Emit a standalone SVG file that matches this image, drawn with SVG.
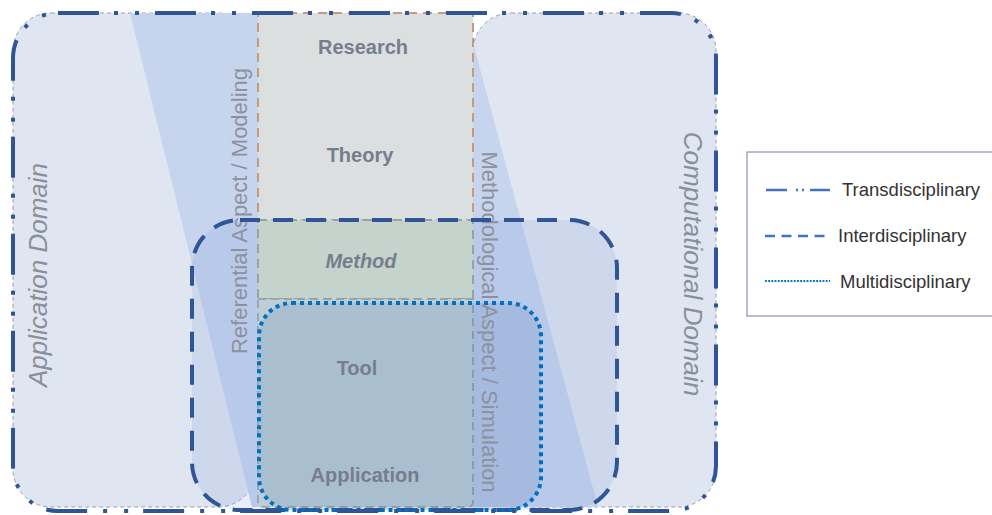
<svg xmlns="http://www.w3.org/2000/svg" width="992" height="515" viewBox="0 0 992 515">
<style>
.dom{fill:#dfe6f2;stroke:#9a9fa8;stroke-width:1;stroke-dasharray:4 3}
.lbl{font-family:"Liberation Sans",Arial,sans-serif;font-weight:bold;font-size:20px;fill:#777d8e;text-anchor:middle}
.rot{font-family:"Liberation Sans",Arial,sans-serif;font-size:22px;fill:#8c919b;text-anchor:middle}
.domt{font-family:"Liberation Sans",Arial,sans-serif;font-style:italic;font-size:26px;fill:#8a8f99;text-anchor:middle}
.leg{font-family:"Liberation Sans",Arial,sans-serif;font-size:18.5px;fill:#333}
.trans{fill:none;stroke:#2f5597;stroke-width:4;stroke-dasharray:41 15 4 17 4 16}
.inter{stroke:#2f5597;stroke-width:4;stroke-dasharray:20 13}
.multi{stroke:#0070c0;stroke-width:4;stroke-dasharray:4 4}
</style>
<rect width="992" height="515" fill="#fff"/>
<g id="application-domain">
<rect class="dom" x="13" y="13" width="243" height="494" rx="38"/>
</g>
<g id="computational-domain">
<rect class="dom" x="473" y="13" width="243" height="494" rx="38"/>
</g>
<g id="band">
<polygon points="130,13 465,13 598,507 252,507" fill="#c7d4ee"/>
</g>
<g id="interdisciplinary-fill">
<rect x="192" y="220" width="425" height="290" rx="48" fill="#6f8fd2" fill-opacity="0.16"/>
</g>
<g id="research-theory">
<rect x="258" y="13" width="215" height="207" fill="#dcdfe0" stroke="#c49a80" stroke-width="2" stroke-dasharray="9 6"/>
<text class="lbl" x="363" y="54">Research</text>
<text class="lbl" x="360" y="162">Theory</text>
</g>
<g id="method">
<rect x="258" y="220" width="215" height="79" fill="#c4d4cc" stroke="#98a39c" stroke-width="2" stroke-dasharray="9 6"/>
<text class="lbl" x="361" y="268" font-style="italic">Method</text>
</g>
<g id="tool-application">
<path d="M258,299 H473 V501 Q473,507 467,507 H264 Q258,507 258,501 Z" fill="#bccfd6" stroke="#8f9b9c" stroke-width="1.5" stroke-dasharray="8 5"/>
</g>
<g id="multidisciplinary-fill">
<rect x="259" y="303" width="282" height="207" rx="33" fill="#3c64aa" fill-opacity="0.15"/>
</g>
<g id="labels">
<text class="lbl" x="357" y="375">Tool</text>
<text class="lbl" x="365" y="482">Application</text>
<text class="rot" transform="translate(247,211) rotate(-90)">Referential Aspect / Modeling</text>
<text class="rot" transform="translate(482,322) rotate(90)">Methodological Aspect / Simulation</text>
<text class="domt" transform="translate(47,275) rotate(-90)">Application Domain</text>
<text class="domt" transform="translate(684,264) rotate(90)">Computational Domain</text>
</g>
<g id="connectors">
<rect class="inter" x="192" y="220" width="425" height="290" rx="48" fill="none"/>
<rect class="multi" x="259" y="303" width="282" height="207" rx="33" fill="none"/>
<rect class="trans" x="13" y="13" width="703" height="498" rx="45"/>
</g>
<g id="legend">
<rect x="747" y="152" width="260" height="164" fill="#fff" stroke="#8593ab" stroke-width="1.2"/>
<g stroke="#4472c4" stroke-width="2.5">
<line x1="766" y1="190" x2="787" y2="190"/>
<line x1="796" y1="190" x2="798" y2="190"/>
<line x1="802" y1="190" x2="804" y2="190"/>
<line x1="810" y1="190" x2="830" y2="190"/>
<line x1="765" y1="236" x2="828" y2="236" stroke-dasharray="10 6.5"/>
</g>
<line x1="765" y1="281" x2="830" y2="281" stroke="#0070c0" stroke-width="1.8" stroke-dasharray="1.8 1.4"/>
<text class="leg" x="842" y="196">Transdisciplinary</text>
<text class="leg" x="838" y="242">Interdisciplinary</text>
<text class="leg" x="840" y="288">Multidisciplinary</text>
</g>
</svg>
